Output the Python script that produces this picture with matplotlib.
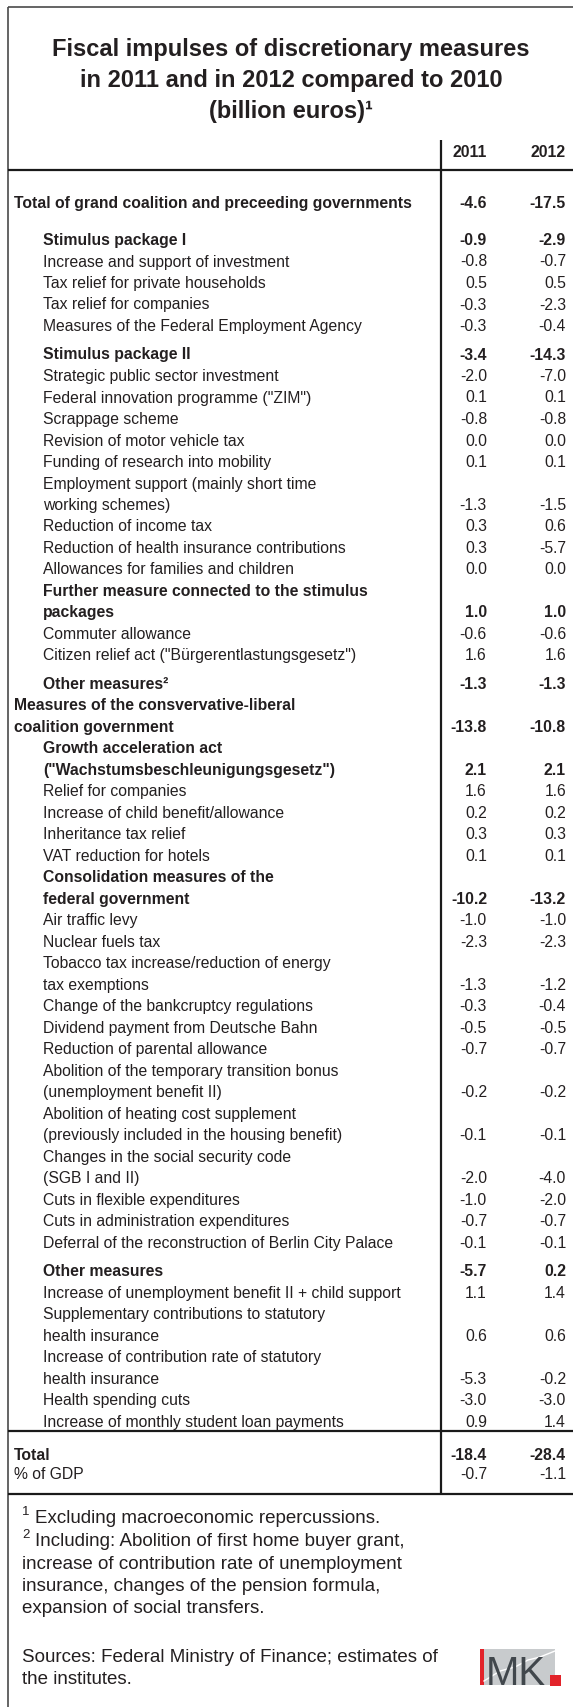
import matplotlib
matplotlib.use("Agg")
import matplotlib.pyplot as plt
from matplotlib.patches import Rectangle

# ---------------- data ----------------
title_lines = ["Fiscal impulses of discretionary measures",
               "in 2011 and in 2012 compared to 2010",
               "(billion euros)\u00b9"]
years = ["2011", "2012"]

labels = [
    "Total of grand coalition and preceeding governments",
    "Stimulus package I",
    "Increase and support of investment",
    "Tax relief for private households",
    "Tax relief for companies",
    "Measures of the Federal Employment Agency",
    "Stimulus package II",
    "Strategic public sector investment",
    "Federal innovation programme (\"ZIM\")",
    "Scrappage scheme",
    "Revision of motor vehicle tax",
    "Funding of research into mobility",
    "Employment support (mainly short time\nworking schemes)",
    "Reduction of income tax",
    "Reduction of health insurance contributions",
    "Allowances for families and children",
    "Further measure connected to the stimulus\npackages",
    "Commuter allowance",
    "Citizen relief act (\"B\u00fcrgerentlastungsgesetz\")",
    "Other measures\u00b2",
    "Measures of the consvervative-liberal\ncoalition government",
    "Growth acceleration act\n(\"Wachstumsbeschleunigungsgesetz\")",
    "Relief for companies",
    "Increase of child benefit/allowance",
    "Inheritance tax relief",
    "VAT reduction for hotels",
    "Consolidation measures of the\nfederal government",
    "Air traffic levy",
    "Nuclear fuels tax",
    "Tobacco tax increase/reduction of energy\ntax exemptions",
    "Change of the bankcruptcy regulations",
    "Dividend payment from Deutsche Bahn",
    "Reduction of parental allowance",
    "Abolition of the temporary transition bonus\n(unemployment benefit II)",
    "Abolition of heating cost supplement\n(previously included in the housing benefit)",
    "Changes in the social security code\n(SGB I and II)",
    "Cuts in flexible expenditures",
    "Cuts in administration expenditures",
    "Deferral of the reconstruction of Berlin City Palace",
    "Other measures",
    "Increase of unemployment benefit II + child support",
    "Supplementary contributions to statutory\nhealth insurance",
    "Increase of contribution rate of statutory\nhealth insurance",
    "Health spending cuts",
    "Increase of monthly student loan payments",
    "Total",
    "% of GDP",
]

v2011 = [-4.6, -0.9, -0.8, 0.5, -0.3, -0.3, -3.4, -2.0, 0.1, -0.8, 0.0, 0.1,
         -1.3, 0.3, 0.3, 0.0, 1.0, -0.6, 1.6, -1.3, -13.8, 2.1, 1.6, 0.2, 0.3,
         0.1, -10.2, -1.0, -2.3, -1.3, -0.3, -0.5, -0.7, -0.2, -0.1, -2.0,
         -1.0, -0.7, -0.1, -5.7, 1.1, 0.6, -5.3, -3.0, 0.9, -18.4, -0.7]
v2012 = [-17.5, -2.9, -0.7, 0.5, -2.3, -0.4, -14.3, -7.0, 0.1, -0.8, 0.0, 0.1,
         -1.5, 0.6, -5.7, 0.0, 1.0, -0.6, 1.6, -1.3, -10.8, 2.1, 1.6, 0.2, 0.3,
         0.1, -13.2, -1.0, -2.3, -1.2, -0.4, -0.5, -0.7, -0.2, -0.1, -4.0,
         -2.0, -0.7, -0.1, 0.2, 1.4, 0.6, -0.2, -3.0, 1.4, -28.4, -1.1]

footnote1 = "Excluding macroeconomic repercussions."
footnote2 = ["Including: Abolition of first home buyer grant,",
             "increase of contribution rate of unemployment",
             "insurance, changes of the pension formula,",
             "expansion of social transfers."]
sources = ["Sources: Federal Ministry of Finance; estimates of",
           "the institutes."]

# ---------------- styles / layout ----------------
bold_rows = {0, 1, 6, 16, 19, 20, 21, 26, 39, 45}
outer_rows = {0, 20, 45, 46}
gap_rows = {6: 7.0, 19: 7.0, 39: 7.0}

W, H = 573, 1708
TXT = "#231f20"
FONT = "Liberation Sans"
FS = 11.3

fig = plt.figure(figsize=(W / 100, H / 100), dpi=100)
ax = fig.add_axes([0, 0, 1, 1])
ax.set_xlim(0, W)
ax.set_ylim(H, 0)
ax.axis("off")

# frame
ax.plot([8, W], [8, 8], color="#4a4a4a", lw=1.2, solid_capstyle="butt")
ax.plot([8, 8], [8, H], color="#4a4a4a", lw=1.2, solid_capstyle="butt")

# title
for i, t in enumerate(title_lines):
    ax.text(291, 56 + i * 31, t, ha="center", va="baseline", fontsize=17,
            fontweight="bold", color=TXT, family=FONT)

# column geometry
sep_x = 441
col_right = [487, 566]

for x, yr in zip(col_right, years):
    ax.text(x, 157, yr, ha="right", va="baseline", fontsize=FS,
            fontweight="bold", color=TXT, family=FONT)

ax.plot([sep_x, sep_x], [141, 1495], color="#1a1a1a", lw=1.6, solid_capstyle="butt")
for yl in (171, 1432, 1495):
    ax.plot([8, W], [yl, yl], color="#1a1a1a", lw=1.6, solid_capstyle="butt")

# row baselines
pitch = 21.5
baselines = []
y = 245.0
for i, lab in enumerate(labels):
    nlines = lab.count("\n") + 1
    if i == 0:
        baselines.append([208.0])
        continue
    if i == 45:
        baselines.append([1460.0])
        continue
    if i == 46:
        baselines.append([1479.0])
        continue
    y += gap_rows.get(i, 0.0)
    ys = []
    for k in range(nlines):
        ys.append(y)
        y += pitch
    baselines.append(ys)

for i, lab in enumerate(labels):
    weight = "bold" if i in bold_rows else "normal"
    x0 = 14 if i in outer_rows else 43
    for line, yb in zip(lab.split("\n"), baselines[i]):
        ax.text(x0, yb, line, ha="left", va="baseline", fontsize=FS,
                fontweight=weight, color=TXT, family=FONT)
    yv = baselines[i][-1]
    for x, val in zip(col_right, (v2011[i], v2012[i])):
        ax.text(x, yv, f"{val:.1f}", ha="right", va="baseline", fontsize=FS,
                fontweight=weight, color=TXT, family=FONT)

# footnotes
FN = 13.5
ax.text(22, 1515, "1", fontsize=9.5, color=TXT, family=FONT, va="baseline")
ax.text(35, 1523, footnote1, fontsize=FN, color=TXT, family=FONT, va="baseline")
ax.text(22, 1538, "2", fontsize=9.5, color=TXT, family=FONT, va="baseline")
ax.text(35, 1546, footnote2[0], fontsize=FN, color=TXT, family=FONT, va="baseline")
for k, line in enumerate(footnote2[1:]):
    ax.text(22, 1569 + k * 22, line, fontsize=FN, color=TXT, family=FONT,
            va="baseline")
for k, line in enumerate(sources):
    ax.text(22, 1662 + k * 22, line, fontsize=FN, color=TXT, family=FONT,
            va="baseline")

# IMK logo
ax.add_patch(Rectangle((480, 1650), 75, 36, facecolor="#c8cbcd", edgecolor="none"))
ax.add_patch(Rectangle((480, 1650), 4, 36, facecolor="#e2232a", edgecolor="none"))
ax.plot([484, 500, 515, 528, 540, 555], [1682, 1672, 1668, 1661, 1658, 1652],
        color="white", lw=1.0)
ax.text(486, 1685, "MK", fontsize=29, color="#41474c", family=FONT,
        ha="left", va="baseline")
ax.add_patch(Rectangle((550, 1676), 11, 11, facecolor="#e2232a", edgecolor="none"))

fig.savefig("out.png", dpi=100, facecolor="white")
